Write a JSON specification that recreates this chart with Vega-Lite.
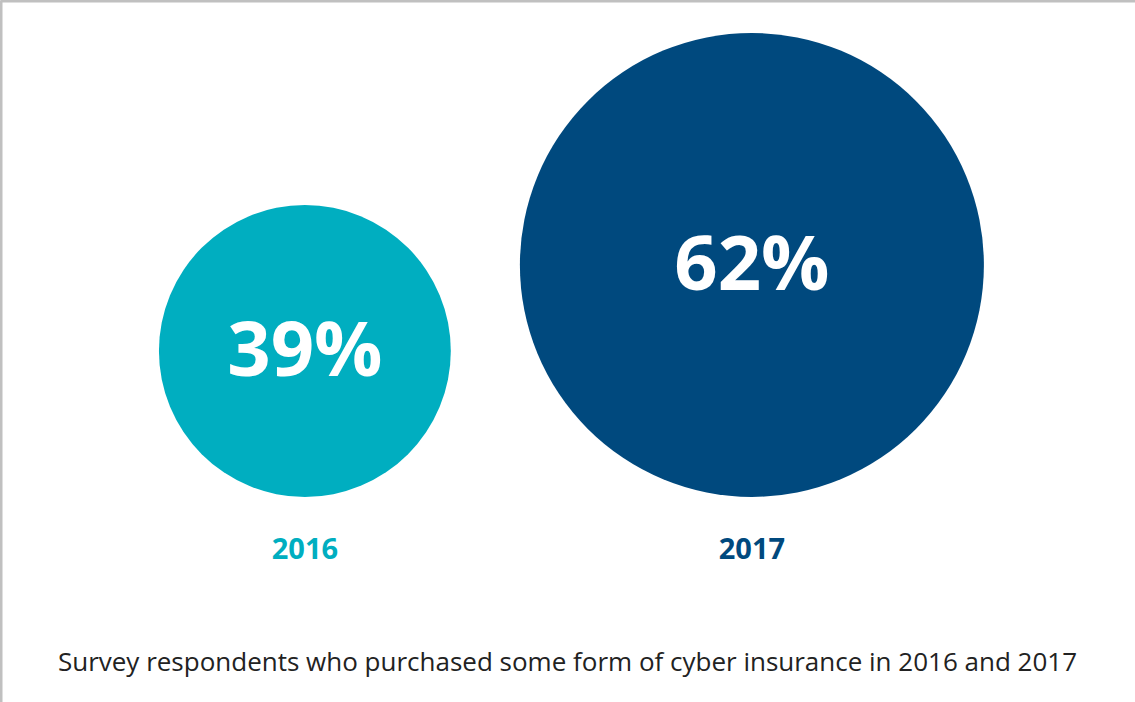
{
  "$schema": "https://vega.github.io/schema/vega-lite/v6.json",
  "width": 1135,
  "height": 702,
  "autosize": {"type": "fit", "contains": "padding"},
  "padding": 0,
  "background": "white",
  "config": {"view": {"stroke": null}, "font": "Open Sans"},
  "title": {
    "text": "Survey respondents who purchased some form of cyber insurance in 2016 and 2017",
    "orient": "bottom",
    "anchor": "middle",
    "offset": -52,
    "fontSize": 26,
    "fontWeight": "normal",
    "font": "Open Sans",
    "color": "#222222"
  },
  "data": {
    "values": [
      {"year": 2016, "yr": "2016", "value": 39, "label": "39%"},
      {"year": 2017, "yr": "2017", "value": 62, "label": "62%"}
    ]
  },
  "encoding": {
    "x": {
      "field": "year",
      "type": "quantitative",
      "scale": {"domain": [2015.318, 2017.857], "nice": false, "zero": false},
      "axis": {"orient": "top", "title": null, "labels": false, "ticks": false, "grid": false, "domainColor": "#c0c0c0", "domainWidth": 4}
    },
    "y": {
      "field": "value",
      "type": "quantitative",
      "scale": {"domain": [-54.8, 132.8], "nice": false, "zero": false},
      "axis": {"orient": "left", "title": null, "labels": false, "ticks": false, "grid": false, "domainColor": "#c0c0c0", "domainWidth": 4}
    }
  },
  "layer": [
    {
      "mark": {"type": "point", "shape": "circle", "filled": true, "opacity": 1},
      "encoding": {
        "size": {
          "field": "value",
          "type": "quantitative",
          "scale": {"type": "pow", "exponent": 2, "domain": [0, 62], "range": [0, 215296]},
          "legend": null
        },
        "color": {
          "field": "yr",
          "type": "nominal",
          "scale": {"domain": ["2016", "2017"], "range": ["#00AEC0", "#00497E"]},
          "legend": null
        }
      }
    },
    {
      "mark": {"type": "text", "fontSize": 76, "fontWeight": "bold", "font": "Open Sans", "color": "white", "baseline": "middle", "align": "center", "dy": 2},
      "encoding": {"text": {"field": "label"}}
    },
    {
      "mark": {"type": "text", "fontSize": 29, "fontWeight": "bold", "font": "Open Sans", "baseline": "middle", "align": "center"},
      "encoding": {
        "y": {"datum": -14.2},
        "text": {"field": "yr"},
        "color": {"field": "yr", "type": "nominal", "legend": null}
      }
    }
  ]
}
